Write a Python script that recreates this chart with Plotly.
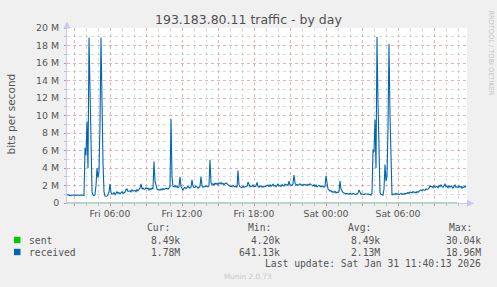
import pandas as pd
import plotly.graph_objects as go

# ---------------- data ----------------
start_time = "2026-01-30 02:25"
step_minutes = 5

# received traffic, Mbit/s, one reading every 5 minutes
received_m = [
    0.95, 0.88, 0.9, 0.85, 0.92, 0.9, 0.88, 0.93, 0.87, 0.9, 0.86, 0.91, 0.89, 0.87, 0.9, 0.92, 0.88, 0.86, 6.3, 5.5,
    9.3, 4.0, 18.9, 11.5, 5.0, 1.3, 0.9, 0.85, 0.95, 2.0, 4.0, 2.9, 3.6, 9.0, 18.9, 11.0, 4.5, 1.3, 0.8, 0.78,
    0.8, 0.95, 1.3, 2.15, 1.2, 1.0, 1.05, 1.2, 0.95, 1.1, 1.3, 1.1, 1.2, 1.05, 1.15, 1.3, 1.1, 1.2, 1.25, 1.55,
    1.6, 1.3, 1.35, 1.4, 1.25, 1.5, 1.35, 1.4, 1.45, 1.3, 1.55, 1.4, 1.5, 1.7, 2.2, 1.6, 1.7, 1.55, 1.6, 1.75,
    1.6, 1.7, 1.5, 1.65, 1.55, 1.7, 1.6, 4.75, 2.5, 1.8, 1.6, 1.5, 1.55, 1.45, 1.6, 1.5, 1.65, 1.55, 1.6, 1.7,
    1.65, 1.6, 1.7, 1.9, 9.6, 3.0, 1.9, 1.85, 2.0, 1.8, 1.9, 1.75, 1.85, 3.0, 1.9, 1.6, 1.45, 1.7, 1.8, 1.65,
    1.75, 1.9, 1.8, 1.7, 1.8, 2.65, 1.9, 1.75, 1.8, 1.95, 1.85, 1.7, 1.8, 1.9, 3.0, 2.0, 1.8, 1.9, 1.85, 1.95,
    1.9, 1.85, 2.0, 4.95, 2.3, 2.1, 2.2, 2.0, 2.3, 2.15, 2.25, 2.1, 2.3, 2.2, 2.35, 2.15, 2.25, 2.1, 2.2, 2.3,
    2.2, 2.1, 2.0, 1.9, 1.95, 1.85, 2.0, 1.9, 1.85, 1.9, 1.8, 3.7, 2.1, 1.85, 1.8, 1.75, 1.9, 1.8, 1.85, 1.9,
    1.9, 2.4, 2.0, 1.85, 1.95, 1.9, 2.05, 1.85, 1.9, 1.95, 2.35, 1.9, 1.8, 1.95, 1.85, 1.9, 1.8, 1.95, 1.85, 1.9,
    1.95, 2.05, 1.85, 2.1, 1.9, 2.0, 2.15, 1.95, 2.0, 1.85, 2.05, 2.2, 1.95, 2.0, 1.9, 2.1, 2.0, 1.95, 2.15, 2.05,
    2.1, 2.0, 2.5, 2.1, 2.05, 2.0, 2.2, 3.2, 2.3, 2.05, 2.15, 2.0, 2.1, 2.2, 2.05, 2.1, 2.0, 2.15, 2.05, 2.1,
    2.0, 2.15, 2.05, 2.2, 2.1, 2.0, 1.95, 2.1, 1.9, 2.05, 1.85, 1.95, 2.0, 1.9, 1.85, 1.9, 1.95, 1.8, 1.9, 3.1,
    2.2, 1.6, 1.5, 1.35, 1.4, 1.25, 1.3, 1.2, 1.35, 1.15, 1.25, 1.2, 1.3, 2.5, 1.6, 1.3, 1.2, 1.15, 1.1, 1.05,
    1.1, 1.05, 1.0, 1.1, 1.05, 1.0, 1.1, 1.05, 1.0, 0.95, 1.05, 1.1, 1.5, 1.1, 1.0, 1.05, 1.0, 0.95, 1.05, 1.0,
    1.0, 1.05, 0.95, 1.0, 0.9, 1.1, 6.1, 5.8, 9.5, 4.0, 18.96, 11.5, 4.5, 1.2, 1.0, 0.95, 0.9, 1.6, 4.4, 2.5,
    3.0, 8.5, 18.2, 10.0, 3.5, 0.9, 1.0, 1.05, 0.95, 1.1, 1.0, 1.05, 0.95, 1.0, 1.1, 1.0, 1.05, 1.0, 1.1, 1.05,
    1.15, 1.2, 1.1, 1.25, 1.2, 1.15, 1.3, 1.2, 1.25, 1.15, 1.3, 1.2, 1.35, 1.45, 1.5, 1.4, 1.55, 1.5, 1.45, 1.6,
    1.55, 1.6, 1.7, 2.0, 1.85, 1.9, 1.75, 1.95, 1.8, 1.85, 1.9, 1.75, 2.0, 1.85, 2.1, 1.9, 1.8, 1.95, 2.2, 1.85,
    1.9, 1.75, 2.0, 1.8, 1.95, 1.85, 1.7, 1.9, 2.05, 1.8, 1.85, 1.75, 1.95, 1.8, 1.9, 1.7, 1.85, 1.8, 1.9, 1.78,
]

# sent traffic, kbit/s, one reading every 50 minutes
sent_step_minutes = 50
sent_k = [
    8.1, 7.9, 8.6, 9.2, 8.3, 7.5, 8.8, 9.0, 8.2, 8.7, 8.4, 9.1, 8.0, 8.9, 8.5, 8.3, 8.6, 8.8, 8.2, 8.4,
    8.7, 8.5, 8.9, 8.1, 8.3, 8.6, 8.4, 8.8, 8.2, 8.5, 8.7, 8.3, 8.6, 8.4, 8.9, 8.5, 8.2, 8.6, 8.3, 8.5,
]

y_tick_vals = [0, 2, 4, 6, 8, 10, 12, 14, 16, 18, 20]
y_tick_text = ["0", "2 M", "4 M", "6 M", "8 M", "10 M", "12 M", "14 M", "16 M", "18 M", "20 M"]

x_tick_times = ["2026-01-30 03:00", "2026-01-30 06:00", "2026-01-30 09:00", "2026-01-30 12:00",
                "2026-01-30 15:00", "2026-01-30 18:00", "2026-01-30 21:00", "2026-01-31 00:00",
                "2026-01-31 03:00", "2026-01-31 06:00", "2026-01-31 09:00"]
x_tick_text = ["", "Fri 06:00", "", "Fri 12:00", "", "Fri 18:00", "", "Sat 00:00", "", "Sat 06:00", ""]
x_range = ["2026-01-30 02:25", "2026-01-31 11:45"]

legend_names = ["sent", "received"]
legend_colors = ["#00CC00", "#0066B3"]
stat_headers = ["Cur:", "Min:", "Avg:", "Max:"]
stat_sent = ["8.49k", "4.20k", "8.49k", "30.04k"]
stat_received = ["1.78M", "641.13k", "2.13M", "18.96M"]
last_update = "Last update: Sat Jan 31 11:40:13 2026"
title_text = "193.183.80.11 traffic - by day"

# ---------------- figure ----------------
W, H = 497, 287
L, R, T, B = 67, 30, 28, 84
PW, PH = W - L - R, H - T - B


def px(x):
    return (x - L) / PW


def py(y):
    return (T + PH - y) / PH


recv_t = pd.date_range(start_time, periods=len(received_m), freq=f"{step_minutes}min")
sent_t = pd.date_range(start_time, periods=len(sent_k), freq=f"{sent_step_minutes}min")
sent_m = [v / 1000 for v in sent_k]

fig = go.Figure()
fig.add_trace(go.Scatter(x=sent_t, y=sent_m, mode="lines",
                         line=dict(color="#66CC66", width=1), showlegend=False, cliponaxis=False))
fig.add_trace(go.Scatter(x=recv_t, y=received_m, mode="lines",
                         line=dict(color=legend_colors[1], width=1.1), showlegend=False))

MAJ = "rgba(225,150,150,0.55)"
MIN = "rgba(195,195,195,0.6)"
AXC = "#C8C8F0"
TXT = "#555555"

fig.update_layout(
    width=W, height=H,
    margin=dict(l=L, r=R, t=T, b=B, pad=0),
    paper_bgcolor="#F0F0F0", plot_bgcolor="#FFFFFF",
    font=dict(family="DejaVu Sans", size=9.4, color=TXT),
    showlegend=False,
)
fig.update_xaxes(
    type="date", range=x_range, tickmode="array", tickvals=x_tick_times, ticktext=x_tick_text,
    showgrid=True, gridcolor=MAJ, griddash="dot", gridwidth=1,
    ticks="outside", ticklen=2, tickcolor="#E08080", tickwidth=1,
    minor=dict(dtick=3600000, tick0="2026-01-30 00:00", showgrid=True, gridcolor=MIN, griddash="dot",
               ticks="outside", ticklen=2, tickcolor="#C0C0C0"),
    showline=True, linecolor=AXC, linewidth=1, zeroline=False,
    tickfont=dict(family="DejaVu Sans", size=9.3, color=TXT),
    fixedrange=True,
)
fig.update_yaxes(
    range=[0, 20], tickmode="array", tickvals=y_tick_vals, ticktext=y_tick_text,
    showgrid=True, gridcolor=MAJ, griddash="dot", gridwidth=1,
    ticks="outside", ticklen=2, tickcolor="#E08080",
    minor=dict(dtick=1, showgrid=True, gridcolor=MIN, griddash="dot",
               ticks="outside", ticklen=2, tickcolor="#C0C0C0"),
    showline=True, linecolor=AXC, linewidth=1, zeroline=False,
    tickfont=dict(family="DejaVu Sans", size=9.4, color=TXT),
    ticklabelstandoff=3,
    fixedrange=True,
)

ann = []


def text(x, y, s, size=9.7, color=TXT, xanchor="left", family="DejaVu Sans Mono", angle=0):
    ann.append(dict(x=px(x), y=py(y), xref="paper", yref="paper", text=s, showarrow=False,
                    xanchor=xanchor, yanchor="middle", textangle=angle,
                    font=dict(family=family, size=size, color=color)))


text(248, 19.5, title_text, size=12.5, color="#505050", xanchor="center", family="DejaVu Sans")
text(10.5, 114, "bits per second", size=10.5, color=TXT, xanchor="center", family="DejaVu Sans", angle=-90)
text(490.5, 53, "RRDTOOL / TOBI OETIKER", size=6.6, color="#C4C4C4", xanchor="center",
     family="DejaVu Sans", angle=90)

header_x = [145, 246, 346, 446.5]
value_right = [181.5, 281.5, 381.5, 482.5]
for hx, h in zip(header_x, stat_headers):
    text(hx, 227.5, h)
for rx, v in zip(value_right, stat_sent):
    text(rx, 240, v, xanchor="right")
for rx, v in zip(value_right, stat_received):
    text(rx, 252, v, xanchor="right")
text(26.5, 240, legend_names[0])
text(26.5, 252, legend_names[1])
text(482.5, 263.5, last_update, xanchor="right")
text(248, 276, "Munin 2.0.73", size=7.3, color="#CACACA", xanchor="center", family="DejaVu Sans")

shapes = []
for yc, c in zip([240, 252], legend_colors):
    shapes.append(dict(type="rect", xref="paper", yref="paper", x0=px(14), x1=px(20.5),
                       y0=py(yc + 3.2), y1=py(yc - 3.2), fillcolor=c, line=dict(width=0)))
# axis arrows
shapes.append(dict(type="path", xref="paper", yref="paper",
                   path=f"M {px(63.5)},{py(28.5)} L {px(70.5)},{py(28.5)} L {px(67)},{py(21.5)} Z",
                   fillcolor=AXC, line=dict(width=0)))
shapes.append(dict(type="path", xref="paper", yref="paper",
                   path=f"M {px(467)},{py(199.8)} L {px(467)},{py(206.8)} L {px(474)},{py(203.3)} Z",
                   fillcolor=AXC, line=dict(width=0)))

fig.update_layout(annotations=ann, shapes=shapes)
fig.write_html("out.html")
